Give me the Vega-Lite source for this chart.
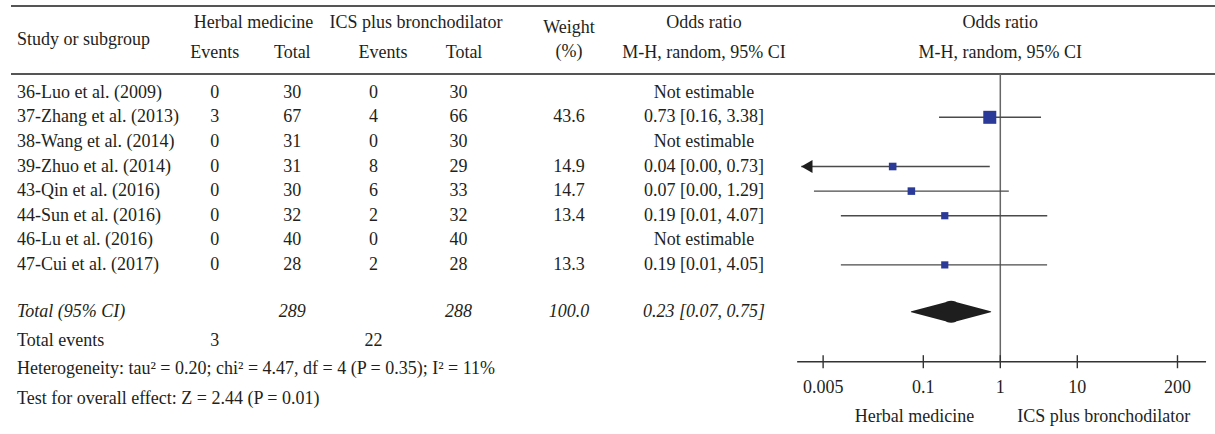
{
  "$schema": "https://vega.github.io/schema/vega-lite/v6.json",
  "padding": {"left": 10, "top": 0, "right": 0, "bottom": 0},
  "spacing": 0,
  "bounds": "flush",
  "resolve": {"scale": {"x": "independent", "y": "independent"}},
  "config": {
    "view": {"stroke": null},
    "font": "Liberation Serif",
    "text": {"font": "Liberation Serif", "fontSize": 18, "color": "#231f20"}
  },
  "datasets": {
    "studies": [
      {"study": "36-Luo et al. (2009)", "e1": 0, "n1": 30, "e2": 0, "n2": 30, "w": null, "ci": "Not estimable", "or": null, "lo": null, "hi": null, "row": 1},
      {"study": "37-Zhang et al. (2013)", "e1": 3, "n1": 67, "e2": 4, "n2": 66, "w": 43.6, "ci": "0.73 [0.16, 3.38]", "or": 0.73, "lo": 0.16, "hi": 3.38, "row": 2},
      {"study": "38-Wang et al. (2014)", "e1": 0, "n1": 31, "e2": 0, "n2": 30, "w": null, "ci": "Not estimable", "or": null, "lo": null, "hi": null, "row": 3},
      {"study": "39-Zhuo et al. (2014)", "e1": 0, "n1": 31, "e2": 8, "n2": 29, "w": 14.9, "ci": "0.04 [0.00, 0.73]", "or": 0.04, "lo": 0.0026, "hi": 0.73, "row": 4},
      {"study": "43-Qin et al. (2016)", "e1": 0, "n1": 30, "e2": 6, "n2": 33, "w": 14.7, "ci": "0.07 [0.00, 1.29]", "or": 0.07, "lo": 0.0038, "hi": 1.29, "row": 5},
      {"study": "44-Sun et al. (2016)", "e1": 0, "n1": 32, "e2": 2, "n2": 32, "w": 13.4, "ci": "0.19 [0.01, 4.07]", "or": 0.19, "lo": 0.0085, "hi": 4.07, "row": 6},
      {"study": "46-Lu et al. (2016)", "e1": 0, "n1": 40, "e2": 0, "n2": 40, "w": null, "ci": "Not estimable", "or": null, "lo": null, "hi": null, "row": 7},
      {"study": "47-Cui et al. (2017)", "e1": 0, "n1": 28, "e2": 2, "n2": 28, "w": 13.3, "ci": "0.19 [0.01, 4.05]", "or": 0.19, "lo": 0.0085, "hi": 4.05, "row": 8}
    ],
    "total": [{"label": "Total (95% CI)", "n1": 289, "n2": 288, "w": 100.0, "ci": "0.23 [0.07, 0.75]", "row": 9.9}],
    "events": [{"label": "Total events", "e1": 3, "e2": 22, "row": 11.08}],
    "notes": [
      {"note": "Heterogeneity: tau² = 0.20; chi² = 4.47, df = 4 (P = 0.35); I² = 11%", "row": 12.23},
      {"note": "Test for overall effect: Z = 2.44 (P = 0.01)", "row": 13.45}
    ],
    "summary": [
      {"kind": "bound", "or": 0.07, "row": 9.9},
      {"kind": "estimate", "or": 0.23, "row": 9.9},
      {"kind": "bound", "or": 0.75, "row": 9.9}
    ],
    "ticks": [
      {"v": 0.005}, {"v": 0.1}, {"v": 1}, {"v": 10}, {"v": 200}
    ]
  },
  "hconcat": [
    {
      "width": 165, "height": 434,
      "layer": [
        {"data": {"values": [{}]}, "mark": {"type": "rule", "color": "#555555", "strokeWidth": 2}, "encoding": {"y": {"datum": -2.524, "type": "quantitative", "scale": {"domain": [-2.769, 14.874], "reverse": true, "nice": false, "zero": false}, "axis": null}}},
        {"data": {"values": [{}]}, "mark": {"type": "rule", "color": "#555555", "strokeWidth": 2}, "encoding": {"y": {"datum": 0.24, "type": "quantitative", "scale": {"domain": [-2.769, 14.874], "reverse": true, "nice": false, "zero": false}, "axis": null}}},
        {"data": {"values": [{}]}, "mark": {"type": "text", "text": "Study or subgroup", "align": "left", "dx": 6}, "encoding": {"x": {"value": 0}, "y": {"datum": -1.142, "type": "quantitative", "scale": {"domain": [-2.769, 14.874], "reverse": true, "nice": false, "zero": false}, "axis": null}}},
        {"data": {"name": "studies"}, "mark": {"type": "text", "align": "left", "dx": 6}, "encoding": {"x": {"value": 0}, "y": {"field": "row", "type": "quantitative", "scale": {"domain": [-2.769, 14.874], "reverse": true, "nice": false, "zero": false}, "axis": null}, "text": {"field": "study"}}},
        {"data": {"name": "total"}, "mark": {"type": "text", "align": "left", "dx": 6, "fontStyle": "italic"}, "encoding": {"x": {"value": 0}, "y": {"field": "row", "type": "quantitative", "scale": {"domain": [-2.769, 14.874], "reverse": true, "nice": false, "zero": false}, "axis": null}, "text": {"field": "label"}}},
        {"data": {"name": "events"}, "mark": {"type": "text", "align": "left", "dx": 6}, "encoding": {"x": {"value": 0}, "y": {"field": "row", "type": "quantitative", "scale": {"domain": [-2.769, 14.874], "reverse": true, "nice": false, "zero": false}, "axis": null}, "text": {"field": "label"}}},
        {"data": {"name": "notes"}, "mark": {"type": "text", "align": "left", "dx": 6}, "encoding": {"x": {"value": 0}, "y": {"field": "row", "type": "quantitative", "scale": {"domain": [-2.769, 14.874], "reverse": true, "nice": false, "zero": false}, "axis": null}, "text": {"field": "note"}}}
      ]
    },
    {
      "width": 155, "height": 434,
      "layer": [
        {"data": {"values": [{}]}, "mark": {"type": "rule", "color": "#555555", "strokeWidth": 2}, "encoding": {"y": {"datum": -2.524, "type": "quantitative", "scale": {"domain": [-2.769, 14.874], "reverse": true, "nice": false, "zero": false}, "axis": null}}},
        {"data": {"values": [{}]}, "mark": {"type": "rule", "color": "#555555", "strokeWidth": 2}, "encoding": {"y": {"datum": 0.24, "type": "quantitative", "scale": {"domain": [-2.769, 14.874], "reverse": true, "nice": false, "zero": false}, "axis": null}}},
        {"data": {"values": [{}]}, "mark": {"type": "text", "text": "Herbal medicine"}, "encoding": {"y": {"datum": -1.846, "type": "quantitative", "scale": {"domain": [-2.769, 14.874], "reverse": true, "nice": false, "zero": false}, "axis": null}}},
        {"data": {"values": [{}]}, "mark": {"type": "text", "text": "Events"}, "encoding": {"x": {"datum": "e1", "type": "nominal", "scale": {"type": "point", "domain": ["e1", "n1"], "padding": 0.5}, "axis": null}, "y": {"datum": -0.602, "type": "quantitative", "scale": {"domain": [-2.769, 14.874], "reverse": true, "nice": false, "zero": false}, "axis": null}}},
        {"data": {"values": [{}]}, "mark": {"type": "text", "text": "Total"}, "encoding": {"x": {"datum": "n1", "type": "nominal", "scale": {"type": "point", "domain": ["e1", "n1"], "padding": 0.5}, "axis": null}, "y": {"datum": -0.602, "type": "quantitative", "scale": {"domain": [-2.769, 14.874], "reverse": true, "nice": false, "zero": false}, "axis": null}}},
        {"data": {"name": "studies"}, "transform": [{"fold": ["e1", "n1"], "as": ["key", "val"]}], "mark": {"type": "text"}, "encoding": {"x": {"field": "key", "type": "nominal", "scale": {"type": "point", "domain": ["e1", "n1"], "padding": 0.5}, "axis": null}, "y": {"field": "row", "type": "quantitative", "scale": {"domain": [-2.769, 14.874], "reverse": true, "nice": false, "zero": false}, "axis": null}, "text": {"field": "val", "type": "quantitative"}}},
        {"data": {"name": "total"}, "mark": {"type": "text", "fontStyle": "italic"}, "encoding": {"x": {"datum": "n1", "type": "nominal", "scale": {"type": "point", "domain": ["e1", "n1"], "padding": 0.5}, "axis": null}, "y": {"field": "row", "type": "quantitative", "scale": {"domain": [-2.769, 14.874], "reverse": true, "nice": false, "zero": false}, "axis": null}, "text": {"field": "n1", "type": "quantitative"}}},
        {"data": {"name": "events"}, "mark": {"type": "text"}, "encoding": {"x": {"datum": "e1", "type": "nominal", "scale": {"type": "point", "domain": ["e1", "n1"], "padding": 0.5}, "axis": null}, "y": {"field": "row", "type": "quantitative", "scale": {"domain": [-2.769, 14.874], "reverse": true, "nice": false, "zero": false}, "axis": null}, "text": {"field": "e1", "type": "quantitative"}}}
      ]
    },
    {
      "width": 170, "height": 434,
      "layer": [
        {"data": {"values": [{}]}, "mark": {"type": "rule", "color": "#555555", "strokeWidth": 2}, "encoding": {"y": {"datum": -2.524, "type": "quantitative", "scale": {"domain": [-2.769, 14.874], "reverse": true, "nice": false, "zero": false}, "axis": null}}},
        {"data": {"values": [{}]}, "mark": {"type": "rule", "color": "#555555", "strokeWidth": 2}, "encoding": {"y": {"datum": 0.24, "type": "quantitative", "scale": {"domain": [-2.769, 14.874], "reverse": true, "nice": false, "zero": false}, "axis": null}}},
        {"data": {"values": [{}]}, "mark": {"type": "text", "text": "ICS plus bronchodilator"}, "encoding": {"y": {"datum": -1.846, "type": "quantitative", "scale": {"domain": [-2.769, 14.874], "reverse": true, "nice": false, "zero": false}, "axis": null}}},
        {"data": {"values": [{}]}, "mark": {"type": "text", "text": "Events", "dx": 9.5}, "encoding": {"x": {"datum": "e2", "type": "nominal", "scale": {"type": "point", "domain": ["e2", "n2"], "padding": 0.5}, "axis": null}, "y": {"datum": -0.602, "type": "quantitative", "scale": {"domain": [-2.769, 14.874], "reverse": true, "nice": false, "zero": false}, "axis": null}}},
        {"data": {"values": [{}]}, "mark": {"type": "text", "text": "Total", "dx": 5.5}, "encoding": {"x": {"datum": "n2", "type": "nominal", "scale": {"type": "point", "domain": ["e2", "n2"], "padding": 0.5}, "axis": null}, "y": {"datum": -0.602, "type": "quantitative", "scale": {"domain": [-2.769, 14.874], "reverse": true, "nice": false, "zero": false}, "axis": null}}},
        {"data": {"name": "studies"}, "transform": [{"fold": ["e2", "n2"], "as": ["key", "val"]}], "mark": {"type": "text"}, "encoding": {"x": {"field": "key", "type": "nominal", "scale": {"type": "point", "domain": ["e2", "n2"], "padding": 0.5}, "axis": null}, "y": {"field": "row", "type": "quantitative", "scale": {"domain": [-2.769, 14.874], "reverse": true, "nice": false, "zero": false}, "axis": null}, "text": {"field": "val", "type": "quantitative"}}},
        {"data": {"name": "total"}, "mark": {"type": "text", "fontStyle": "italic"}, "encoding": {"x": {"datum": "n2", "type": "nominal", "scale": {"type": "point", "domain": ["e2", "n2"], "padding": 0.5}, "axis": null}, "y": {"field": "row", "type": "quantitative", "scale": {"domain": [-2.769, 14.874], "reverse": true, "nice": false, "zero": false}, "axis": null}, "text": {"field": "n2", "type": "quantitative"}}},
        {"data": {"name": "events"}, "mark": {"type": "text"}, "encoding": {"x": {"datum": "e2", "type": "nominal", "scale": {"type": "point", "domain": ["e2", "n2"], "padding": 0.5}, "axis": null}, "y": {"field": "row", "type": "quantitative", "scale": {"domain": [-2.769, 14.874], "reverse": true, "nice": false, "zero": false}, "axis": null}, "text": {"field": "e2", "type": "quantitative"}}}
      ]
    },
    {
      "width": 136, "height": 434,
      "layer": [
        {"data": {"values": [{}]}, "mark": {"type": "rule", "color": "#555555", "strokeWidth": 2}, "encoding": {"y": {"datum": -2.524, "type": "quantitative", "scale": {"domain": [-2.769, 14.874], "reverse": true, "nice": false, "zero": false}, "axis": null}}},
        {"data": {"values": [{}]}, "mark": {"type": "rule", "color": "#555555", "strokeWidth": 2}, "encoding": {"y": {"datum": 0.24, "type": "quantitative", "scale": {"domain": [-2.769, 14.874], "reverse": true, "nice": false, "zero": false}, "axis": null}}},
        {"data": {"values": [{}]}, "mark": {"type": "text", "text": "Weight"}, "encoding": {"y": {"datum": -1.63, "type": "quantitative", "scale": {"domain": [-2.769, 14.874], "reverse": true, "nice": false, "zero": false}, "axis": null}}},
        {"data": {"values": [{}]}, "mark": {"type": "text", "text": "(%)"}, "encoding": {"y": {"datum": -0.667, "type": "quantitative", "scale": {"domain": [-2.769, 14.874], "reverse": true, "nice": false, "zero": false}, "axis": null}}},
        {"data": {"name": "studies"}, "transform": [{"filter": "isValid(datum.w)"}], "mark": {"type": "text"}, "encoding": {"y": {"field": "row", "type": "quantitative", "scale": {"domain": [-2.769, 14.874], "reverse": true, "nice": false, "zero": false}, "axis": null}, "text": {"field": "w", "type": "quantitative", "format": ".1f"}}},
        {"data": {"name": "total"}, "mark": {"type": "text", "fontStyle": "italic"}, "encoding": {"y": {"field": "row", "type": "quantitative", "scale": {"domain": [-2.769, 14.874], "reverse": true, "nice": false, "zero": false}, "axis": null}, "text": {"field": "w", "type": "quantitative", "format": ".1f"}}}
      ]
    },
    {
      "width": 134, "height": 434,
      "layer": [
        {"data": {"values": [{}]}, "mark": {"type": "rule", "color": "#555555", "strokeWidth": 2}, "encoding": {"y": {"datum": -2.524, "type": "quantitative", "scale": {"domain": [-2.769, 14.874], "reverse": true, "nice": false, "zero": false}, "axis": null}}},
        {"data": {"values": [{}]}, "mark": {"type": "rule", "color": "#555555", "strokeWidth": 2}, "encoding": {"y": {"datum": 0.24, "type": "quantitative", "scale": {"domain": [-2.769, 14.874], "reverse": true, "nice": false, "zero": false}, "axis": null}}},
        {"data": {"values": [{}]}, "mark": {"type": "text", "text": "Odds ratio"}, "encoding": {"y": {"datum": -1.82, "type": "quantitative", "scale": {"domain": [-2.769, 14.874], "reverse": true, "nice": false, "zero": false}, "axis": null}}},
        {"data": {"values": [{}]}, "mark": {"type": "text", "text": "M-H, random, 95% CI"}, "encoding": {"y": {"datum": -0.6, "type": "quantitative", "scale": {"domain": [-2.769, 14.874], "reverse": true, "nice": false, "zero": false}, "axis": null}}},
        {"data": {"name": "studies"}, "mark": {"type": "text"}, "encoding": {"y": {"field": "row", "type": "quantitative", "scale": {"domain": [-2.769, 14.874], "reverse": true, "nice": false, "zero": false}, "axis": null}, "text": {"field": "ci"}}},
        {"data": {"name": "total"}, "mark": {"type": "text", "fontStyle": "italic"}, "encoding": {"y": {"field": "row", "type": "quantitative", "scale": {"domain": [-2.769, 14.874], "reverse": true, "nice": false, "zero": false}, "axis": null}, "text": {"field": "ci"}}}
      ]
    },
    {
      "width": 445, "height": 434,
      "layer": [
        {"data": {"values": [{}]}, "mark": {"type": "rule", "color": "#555555", "strokeWidth": 2}, "encoding": {"y": {"datum": -2.524, "type": "quantitative", "scale": {"domain": [-2.769, 14.874], "reverse": true, "nice": false, "zero": false}, "axis": null}}},
        {"data": {"values": [{}]}, "mark": {"type": "rule", "color": "#555555", "strokeWidth": 2}, "encoding": {"y": {"datum": 0.24, "type": "quantitative", "scale": {"domain": [-2.769, 14.874], "reverse": true, "nice": false, "zero": false}, "axis": null}}},
        {"data": {"values": [{}]}, "mark": {"type": "text", "text": "Odds ratio"}, "encoding": {"x": {"datum": 1, "type": "quantitative", "scale": {"type": "log", "domain": [0.001052, 632.8], "nice": false}, "axis": null}, "y": {"datum": -1.82, "type": "quantitative", "scale": {"domain": [-2.769, 14.874], "reverse": true, "nice": false, "zero": false}, "axis": null}}},
        {"data": {"values": [{}]}, "mark": {"type": "text", "text": "M-H, random, 95% CI"}, "encoding": {"x": {"datum": 1, "type": "quantitative", "scale": {"type": "log", "domain": [0.001052, 632.8], "nice": false}, "axis": null}, "y": {"datum": -0.6, "type": "quantitative", "scale": {"domain": [-2.769, 14.874], "reverse": true, "nice": false, "zero": false}, "axis": null}}},
        {"data": {"values": [{}]}, "mark": {"type": "rule", "color": "#666666", "strokeWidth": 1.5}, "encoding": {"x": {"datum": 1, "type": "quantitative", "scale": {"type": "log", "domain": [0.001052, 632.8], "nice": false}, "axis": null}, "y": {"datum": 0.24, "type": "quantitative", "scale": {"domain": [-2.769, 14.874], "reverse": true, "nice": false, "zero": false}, "axis": null}, "y2": {"datum": 11.935}}},
        {"data": {"values": [{}]}, "mark": {"type": "rule", "color": "#333333", "strokeWidth": 1.5}, "encoding": {"x": {"datum": 0.0023, "type": "quantitative", "scale": {"type": "log", "domain": [0.001052, 632.8], "nice": false}, "axis": null}, "x2": {"datum": 470}, "y": {"datum": 11.935, "type": "quantitative", "scale": {"domain": [-2.769, 14.874], "reverse": true, "nice": false, "zero": false}, "axis": null}}},
        {"data": {"name": "ticks"}, "mark": {"type": "rule", "color": "#333333", "strokeWidth": 1.4}, "encoding": {"x": {"field": "v", "type": "quantitative", "scale": {"type": "log", "domain": [0.001052, 632.8], "nice": false}, "axis": null}, "y": {"datum": 11.67, "type": "quantitative", "scale": {"domain": [-2.769, 14.874], "reverse": true, "nice": false, "zero": false}, "axis": null}, "y2": {"datum": 12.2}}},
        {"data": {"name": "ticks"}, "mark": {"type": "text"}, "encoding": {"x": {"field": "v", "type": "quantitative", "scale": {"type": "log", "domain": [0.001052, 632.8], "nice": false}, "axis": null}, "y": {"datum": 13.0, "type": "quantitative", "scale": {"domain": [-2.769, 14.874], "reverse": true, "nice": false, "zero": false}, "axis": null}, "text": {"field": "v", "type": "quantitative", "format": "~g"}}},
        {"data": {"name": "studies"}, "transform": [{"filter": "isValid(datum.or)"}], "mark": {"type": "rule", "color": "#4a4a4a", "strokeWidth": 1.4}, "encoding": {"x": {"field": "lo", "type": "quantitative", "scale": {"type": "log", "domain": [0.001052, 632.8], "nice": false}, "axis": null}, "x2": {"field": "hi"}, "y": {"field": "row", "type": "quantitative", "scale": {"domain": [-2.769, 14.874], "reverse": true, "nice": false, "zero": false}, "axis": null}}},
        {"data": {"name": "studies"}, "transform": [{"filter": "isValid(datum.lo) && datum.lo < 0.003"}], "mark": {"type": "point", "shape": "M0,0L1.732,-1L1.732,1Z", "filled": true, "opacity": 1, "color": "#1e1e1e", "size": 169, "strokeWidth": 0}, "encoding": {"x": {"field": "lo", "type": "quantitative", "scale": {"type": "log", "domain": [0.001052, 632.8], "nice": false}, "axis": null}, "y": {"field": "row", "type": "quantitative", "scale": {"domain": [-2.769, 14.874], "reverse": true, "nice": false, "zero": false}, "axis": null}}},
        {"data": {"name": "studies"}, "transform": [{"filter": "isValid(datum.or)"}], "mark": {"type": "point", "shape": "square", "filled": true, "opacity": 1, "color": "#2b3a98", "strokeWidth": 0}, "encoding": {"x": {"field": "or", "type": "quantitative", "scale": {"type": "log", "domain": [0.001052, 632.8], "nice": false}, "axis": null}, "y": {"field": "row", "type": "quantitative", "scale": {"domain": [-2.769, 14.874], "reverse": true, "nice": false, "zero": false}, "axis": null}, "size": {"field": "w", "type": "quantitative", "scale": {"domain": [0, 43.6], "range": [0, 169]}, "legend": null}}},
        {"data": {"name": "summary"}, "mark": {"type": "trail", "color": "#1e1e1e"}, "encoding": {"x": {"field": "or", "type": "quantitative", "scale": {"type": "log", "domain": [0.001052, 632.8], "nice": false}, "axis": null}, "y": {"field": "row", "type": "quantitative", "scale": {"domain": [-2.769, 14.874], "reverse": true, "nice": false, "zero": false}, "axis": null}, "size": {"field": "kind", "type": "nominal", "scale": {"type": "point", "domain": ["bound", "estimate"], "range": [0, 22], "padding": 0}, "legend": null}, "order": {"field": "or", "type": "quantitative"}}},
        {"data": {"values": [{}]}, "mark": {"type": "text", "text": "Herbal medicine", "align": "right", "dx": -26}, "encoding": {"x": {"datum": 1, "type": "quantitative", "scale": {"type": "log", "domain": [0.001052, 632.8], "nice": false}, "axis": null}, "y": {"datum": 14.18, "type": "quantitative", "scale": {"domain": [-2.769, 14.874], "reverse": true, "nice": false, "zero": false}, "axis": null}}},
        {"data": {"values": [{}]}, "mark": {"type": "text", "text": "ICS plus bronchodilator", "align": "left", "dx": 17}, "encoding": {"x": {"datum": 1, "type": "quantitative", "scale": {"type": "log", "domain": [0.001052, 632.8], "nice": false}, "axis": null}, "y": {"datum": 14.18, "type": "quantitative", "scale": {"domain": [-2.769, 14.874], "reverse": true, "nice": false, "zero": false}, "axis": null}}}
      ]
    }
  ]
}
